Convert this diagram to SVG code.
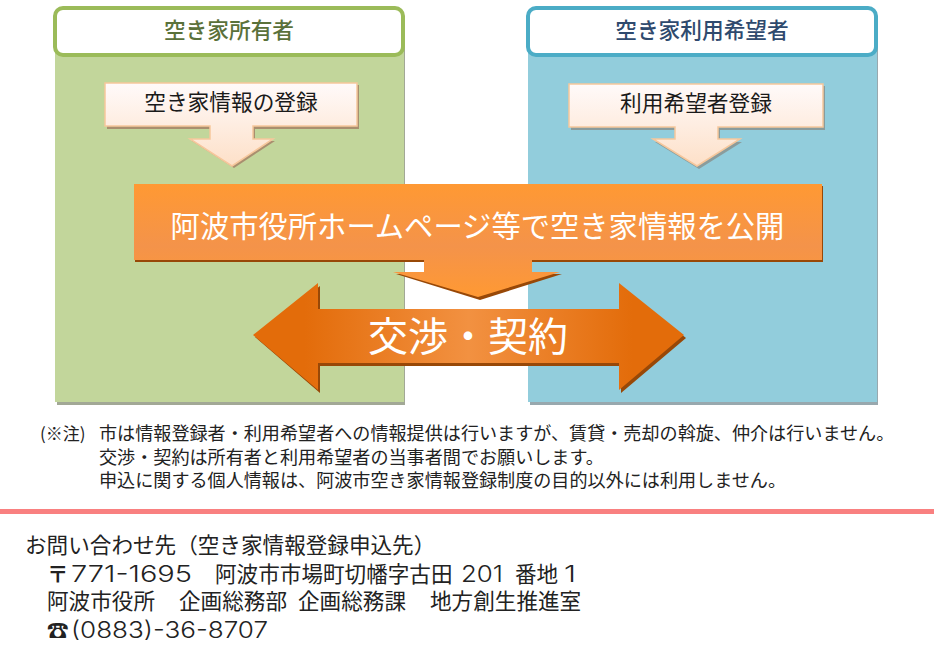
<svg xmlns="http://www.w3.org/2000/svg" width="934" height="646" viewBox="0 0 934 646">
<style>
text{font-family:"Noto Sans CJK JP","Noto Sans",sans-serif;font-weight:400}
.m{text-anchor:middle}
.h{font-size:21.7px;font-weight:500}
.b{font-size:21.7px;fill:#1a1a1a}
.n{font-size:18.1px;fill:#222}
.c{font-size:21.6px;fill:#222}
.p{font-family:Inter,"Liberation Sans",sans-serif;font-weight:300;font-size:22.500px;fill:#222}
.st{stroke:#f6c79c;stroke-width:1.5}
</style>
<defs>
<linearGradient id="pale" x1="0" y1="0" x2="0" y2="1"><stop offset="0" stop-color="#fffafa"/><stop offset="1" stop-color="#fde0c8"/></linearGradient>
<linearGradient id="bar" x1="0" y1="0" x2="0" y2="1"><stop offset="0" stop-color="#ff9933"/><stop offset="0.55" stop-color="#f4934a"/><stop offset="1" stop-color="#ff9933"/></linearGradient>
<linearGradient id="dbl" x1="0" y1="0" x2="1" y2="0"><stop offset="0" stop-color="#e36c0a"/><stop offset="0.12" stop-color="#e36c0a"/><stop offset="0.5" stop-color="#f29141"/><stop offset="0.88" stop-color="#e36c0a"/><stop offset="1" stop-color="#e36c0a"/></linearGradient>
</defs>
<g id="owner-panel">
<rect x="57" y="32" width="348" height="373" fill="#a2a896"/>
<rect x="55" y="30" width="349" height="372" fill="#c2d69b"/>
<rect x="55" y="8" width="348" height="47" rx="8" fill="#fff" stroke="#9bbb59" stroke-width="4"/>
<text class="h m" x="229" y="38" fill="#5a713a">空き家所有者</text>
</g>
<g id="seeker-panel">
<rect x="530" y="32" width="348" height="373" fill="#98a8ae"/>
<rect x="528" y="30" width="349" height="372" fill="#92cddc"/>
<rect x="528" y="8" width="348" height="47" rx="8" fill="#fff" stroke="#4bacc6" stroke-width="4"/>
<text class="h m" x="702" y="38" fill="#2f4a6e">空き家利用希望者</text>
</g>
<g id="owner-register">
<path d="M107 85H359V129H255V141H275L234 168 192 141H212V129H107Z" fill="#a98f6f"/>
<path d="M105 83H357V126H253V139H273L232 166 190 139H210V126H105Z" fill="url(#pale)" class="st"/>
<text class="b m" x="231" y="110">空き家情報の登録</text>
</g>
<g id="seeker-register">
<path d="M571 86H825V130H720V142H742L699 169 655 142H677V130H571Z" fill="#8a9c9c"/>
<path d="M569 84H823V127H718V139H740L697 166 653 139H675V127H569Z" fill="url(#pale)" class="st"/>
<text class="b m" x="696" y="111">利用希望者登録</text>
</g>
<g id="publish">
<rect x="135" y="186" width="688" height="76" fill="#984807"/>
<path d="M396 274H562L480 300Z" fill="#984807"/>
<path d="M134 184H822V260H532V272H560L478 297 393 272H424V260H134Z" fill="url(#bar)"/>
<text class="m" x="477.500" y="237" font-size="29.300" font-weight="500" fill="#fff">阿波市役所ホームページ等で空き家情報を公開</text>
</g>
<g id="negotiate">
<path d="M255 337 320 286V312H621V286L686 338 621 393V366H320V393Z" fill="#984807"/>
<path d="M253 335 318 283V309H619V283L684 335 619 390V363H318V390Z" fill="url(#dbl)"/>
<text class="m" x="468" y="351" font-size="40" font-weight="500" fill="#fff">交渉・契約</text>
</g>
<g id="notes">
<text x="40" y="440" font-size="17" fill="#222">(※注)</text>
<text class="n" x="99" y="440">市は情報登録者・利用希望者への情報提供は行いますが、賃貸・売却の斡旋、仲介は行いません。</text>
<text class="n" x="99" y="464">交渉・契約は所有者と利用希望者の当事者間でお願いします。</text>
<text class="n" x="99" y="487">申込に関する個人情報は、阿波市空き家情報登録制度の目的以外には利用しません。</text>
</g>
<rect id="divider" x="0" y="509" width="934" height="5" fill="#f98080"/>
<g id="contact">
<text class="c" x="25" y="553" font-size="21.700">お問い合わせ先（空き家情報登録申込先）</text>
<text class="c" y="582"><tspan x="47" font-weight="700">〒</tspan><tspan class="p" x="71" textLength="121" lengthAdjust="spacingAndGlyphs">771-1695</tspan><tspan x="215">阿波市市場町切幡字古田</tspan><tspan class="p" x="461" textLength="42" lengthAdjust="spacingAndGlyphs">201</tspan><tspan x="515">番地</tspan><tspan class="p" x="564" textLength="12" lengthAdjust="spacingAndGlyphs">1</tspan></text>
<text class="c" y="609"><tspan x="47">阿波市役所</tspan><tspan x="179">企画総務部</tspan><tspan x="298">企画総務課</tspan><tspan x="430">地方創生推進室</tspan></text>
<text class="c" y="638"><tspan x="47">☎</tspan><tspan class="p" x="71" textLength="197" lengthAdjust="spacingAndGlyphs">(0883)-36-8707</tspan></text>
</g>
</svg>
